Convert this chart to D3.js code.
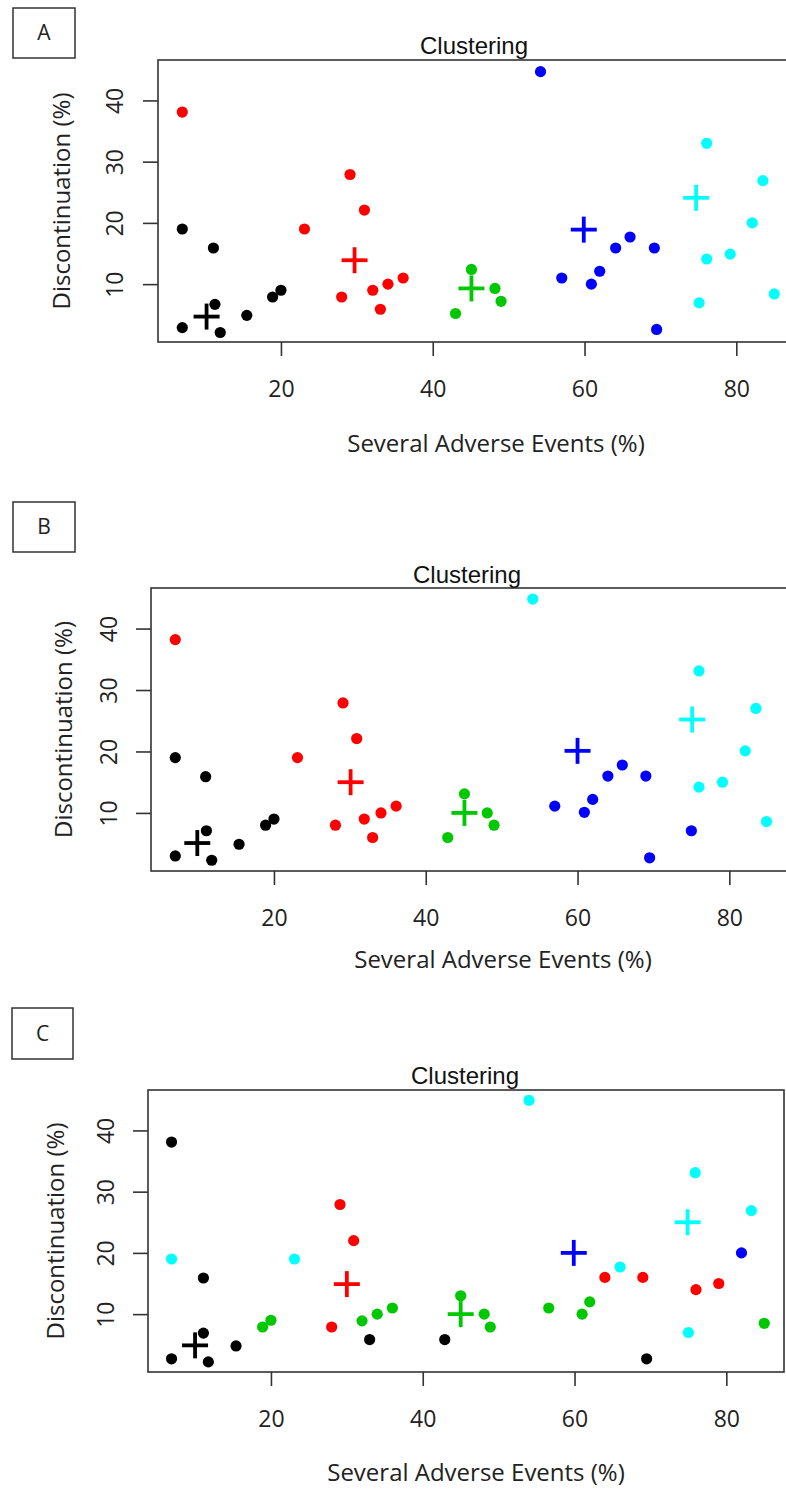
<!DOCTYPE html>
<html>
<head>
<meta charset="utf-8">
<script src="https://cdn.jsdelivr.net/npm/d3@7"></script>
<style>
  html, body { margin: 0; padding: 0; background: #fff; }
  svg { display: block; }
</style>
</head>
<body>
<svg id="chart" width="786" height="1490"></svg>
<script>
// ---------------- data ----------------
const clusterColors = ["#000000", "#FF0000", "#00C800", "#0000FF", "#00FFFF"];
const xTicks = [20, 40, 60, 80];
const yTicks = [10, 20, 30, 40];
const titleText = "Clustering";
const xTitle = "Several Adverse Events (%)";
const yTitle = "Discontinuation (%)";
const panelLetters = ["A", "B", "C"];

// Panel A
const xA = [7.0, 11.1, 11.3, 7.0, 12.0, 15.5, 18.9, 20.0,
            7.0, 29.1, 23.1, 31.0, 28.0, 32.1, 34.1, 36.1, 33.1,
            45.1, 43.0, 48.2, 49.0,
            54.2, 57.0, 60.9, 62.0, 64.1, 66.0, 69.2, 69.5,
            76.1, 79.2, 82.1, 75.1, 85.0, 76.1, 83.5];
const yA = [19.0, 15.9, 6.7, 2.9, 2.1, 4.9, 7.9, 9.0,
            38.1, 27.9, 19.0, 22.1, 7.9, 9.0, 10.0, 11.0, 5.9,
            12.4, 5.2, 9.3, 7.2,
            44.7, 11.0, 10.0, 12.1, 15.9, 17.7, 15.9, 2.6,
            14.1, 14.9, 20.0, 6.95, 8.4, 33.0, 26.9];
const clusterA = [0,0,0,0,0,0,0,0, 1,1,1,1,1,1,1,1,1, 2,2,2,2, 3,3,3,3,3,3,3,3, 4,4,4,4,4,4,4];
const centerXA = [10.2, 29.7, 45.1, 59.9, 74.7];
const centerYA = [4.7, 13.9, 9.3, 18.9, 24.1];

// Panel B
const xB = [7.0, 11.0, 11.1, 7.0, 11.8, 15.4, 18.9, 20.0,
            7.0, 29.1, 23.1, 30.9, 28.1, 31.9, 34.1, 36.1, 33.0,
            45.1, 42.9, 48.1, 49.0,
            57.0, 60.9, 62.0, 64.0, 65.9, 69.0, 69.5, 75.0,
            54.1, 76.0, 79.1, 82.1, 83.5, 84.9, 76.0];
const yB = [19.0, 15.9, 7.1, 3.0, 2.3, 4.9, 8.0, 9.0,
            38.2, 27.9, 19.0, 22.1, 8.0, 9.0, 10.0, 11.1, 6.0,
            13.1, 6.0, 10.0, 8.0,
            11.1, 10.1, 12.2, 16.0, 17.8, 16.0, 2.7, 7.1,
            44.8, 14.2, 15.0, 20.1, 27.0, 8.6, 33.1];
const clusterB = [0,0,0,0,0,0,0,0, 1,1,1,1,1,1,1,1,1, 2,2,2,2, 3,3,3,3,3,3,3,3, 4,4,4,4,4,4,4];
const centerXB = [9.9, 30.1, 45.1, 60.0, 75.1];
const centerYB = [5.1, 15.0, 10.0, 20.1, 25.2];

// Panel C
const xC = [6.9, 11.1, 11.1, 6.9, 11.75, 15.4, 33.0, 42.9, 69.5,
            29.1, 30.9, 28.0, 64.0, 69.0, 76.0, 79.0,
            18.9, 20.0, 32.0, 34.0, 36.0, 45.0, 48.1, 48.9, 56.6, 61.0, 62.0, 85.0,
            82.0,
            6.9, 23.1, 54.0, 75.9, 83.3, 75.0, 66.0];
const yC = [38.1, 15.9, 6.9, 2.7, 2.2, 4.8, 5.85, 5.85, 2.7,
            27.9, 22.0, 7.9, 16.0, 16.0, 14.0, 15.0,
            7.9, 9.0, 8.9, 10.0, 11.0, 13.0, 10.0, 7.9, 11.0, 10.0, 12.0, 8.5,
            20.0,
            19.0, 19.0, 44.9, 33.1, 26.9, 7.0, 17.7];
const clusterC = [0,0,0,0,0,0,0,0,0, 1,1,1,1,1,1,1, 2,2,2,2,2,2,2,2,2,2,2,2, 3, 4,4,4,4,4,4,4];
const centerXC = [10.0, 30.0, 45.0, 59.9, 74.9];
const centerYC = [4.9, 14.9, 10.0, 20.0, 25.0];

const xDomain = [3.8, 87.6];
const yDomain = [0.55, 46.6];

// ---------------- layout ----------------
const panels = [
  { letter: panelLetters[0], xs: xA, ys: yA, cl: clusterA, cx: centerXA, cy: centerYA,
    box: [13, 8, 62, 50], left: 158, top: 60, width: 636, height: 282,
    titleX: 474, titleY: 54, xTitleX: 496, xTitleY: 452, yTitleX: 70, yLabOff: 35 },
  { letter: panelLetters[1], xs: xB, ys: yB, cl: clusterB, cx: centerXB, cy: centerYB,
    box: [13, 502, 62, 50], left: 151, top: 588, width: 636, height: 283,
    titleX: 467, titleY: 583, xTitleX: 503, xTitleY: 968, yTitleX: 72, yLabOff: 34 },
  { letter: panelLetters[2], xs: xC, ys: yC, cl: clusterC, cx: centerXC, cy: centerYC,
    box: [12, 1008, 61, 51], left: 148, top: 1090, width: 636, height: 282,
    titleX: 465, titleY: 1084, xTitleX: 476, xTitleY: 1481, yTitleX: 64, yLabOff: 34 }
];

const svg = d3.select("#chart");
const axisColor = "#333";
const labelFont = "'Open Sans', 'Noto Sans', sans-serif";

panels.forEach(p => {
  // letter box
  svg.append("rect")
    .attr("x", p.box[0]).attr("y", p.box[1])
    .attr("width", p.box[2]).attr("height", p.box[3])
    .attr("fill", "none").attr("stroke", axisColor).attr("stroke-width", 1.5);
  svg.append("text")
    .attr("x", p.box[0] + p.box[2] / 2).attr("y", p.box[1] + p.box[3] / 2)
    .attr("dy", "0.35em")
    .attr("text-anchor", "middle")
    .attr("font-family", labelFont).attr("font-size", 21).attr("fill", "#222")
    .text(p.letter);

  const g = svg.append("g").attr("transform", `translate(${p.left},${p.top})`);
  const x = d3.scaleLinear().domain(xDomain).range([0, p.width]);
  const y = d3.scaleLinear().domain(yDomain).range([p.height, 0]);

  // x axis
  const gx = g.append("g").attr("transform", `translate(0,${p.height})`)
    .call(d3.axisBottom(x).tickValues(xTicks).tickSize(14).tickFormat(d3.format("d")));
  gx.select(".domain").remove();
  gx.selectAll(".tick line").attr("stroke", axisColor).attr("stroke-width", 1.6);
  gx.selectAll(".tick text")
    .attr("y", 55).attr("dy", 0)
    .attr("font-family", labelFont).attr("font-size", 23).attr("fill", "#222");

  // y axis
  const gy = g.append("g")
    .call(d3.axisLeft(y).tickValues(yTicks).tickSize(15).tickFormat(d3.format("d")));
  gy.select(".domain").remove();
  gy.selectAll(".tick line").attr("stroke", axisColor).attr("stroke-width", 1.6);
  gy.selectAll(".tick text")
    .attr("x", 0).attr("dy", 0)
    .attr("text-anchor", "middle")
    .attr("transform", `translate(${-p.yLabOff},0) rotate(-90)`)
    .attr("font-family", labelFont).attr("font-size", 23).attr("fill", "#222");

  // box
  g.append("rect")
    .attr("x", 0).attr("y", 0).attr("width", p.width).attr("height", p.height)
    .attr("fill", "none").attr("stroke", axisColor).attr("stroke-width", 1.6);

  // title
  svg.append("text")
    .attr("x", p.titleX).attr("y", p.titleY)
    .attr("text-anchor", "middle")
    .attr("font-family", "'Liberation Sans', Arial, sans-serif")
    .attr("font-size", 24).attr("fill", "#111")
    .text(titleText);

  // axis titles
  svg.append("text")
    .attr("x", p.xTitleX).attr("y", p.xTitleY)
    .attr("text-anchor", "middle")
    .attr("font-family", labelFont).attr("font-size", 24).attr("fill", "#222")
    .text(xTitle);
  svg.append("text")
    .attr("transform", `translate(${p.yTitleX},${p.top + p.height / 2}) rotate(-90)`)
    .attr("text-anchor", "middle")
    .attr("font-family", labelFont).attr("font-size", 24).attr("fill", "#222")
    .text(yTitle);

  // points
  const pts = p.xs.map((v, i) => ({ x: v, y: p.ys[i], c: p.cl[i] }));
  g.selectAll("circle.pt").data(pts).join("circle")
    .attr("class", "pt")
    .attr("cx", d => x(d.x)).attr("cy", d => y(d.y))
    .attr("r", 5.6)
    .attr("fill", d => clusterColors[d.c]);

  // centers (crosses)
  const centers = p.cx.map((v, i) => ({ x: v, y: p.cy[i], c: i }));
  const arm = 13;
  const cg = g.selectAll("g.ctr").data(centers).join("g")
    .attr("class", "ctr")
    .attr("transform", d => `translate(${x(d.x)},${y(d.y)})`);
  cg.append("line").attr("x1", -arm).attr("x2", arm).attr("y1", 0).attr("y2", 0)
    .attr("stroke", d => clusterColors[d.c]).attr("stroke-width", 3.8);
  cg.append("line").attr("x1", 0).attr("x2", 0).attr("y1", -arm).attr("y2", arm)
    .attr("stroke", d => clusterColors[d.c]).attr("stroke-width", 3.8);
});
</script>
</body>
</html>
